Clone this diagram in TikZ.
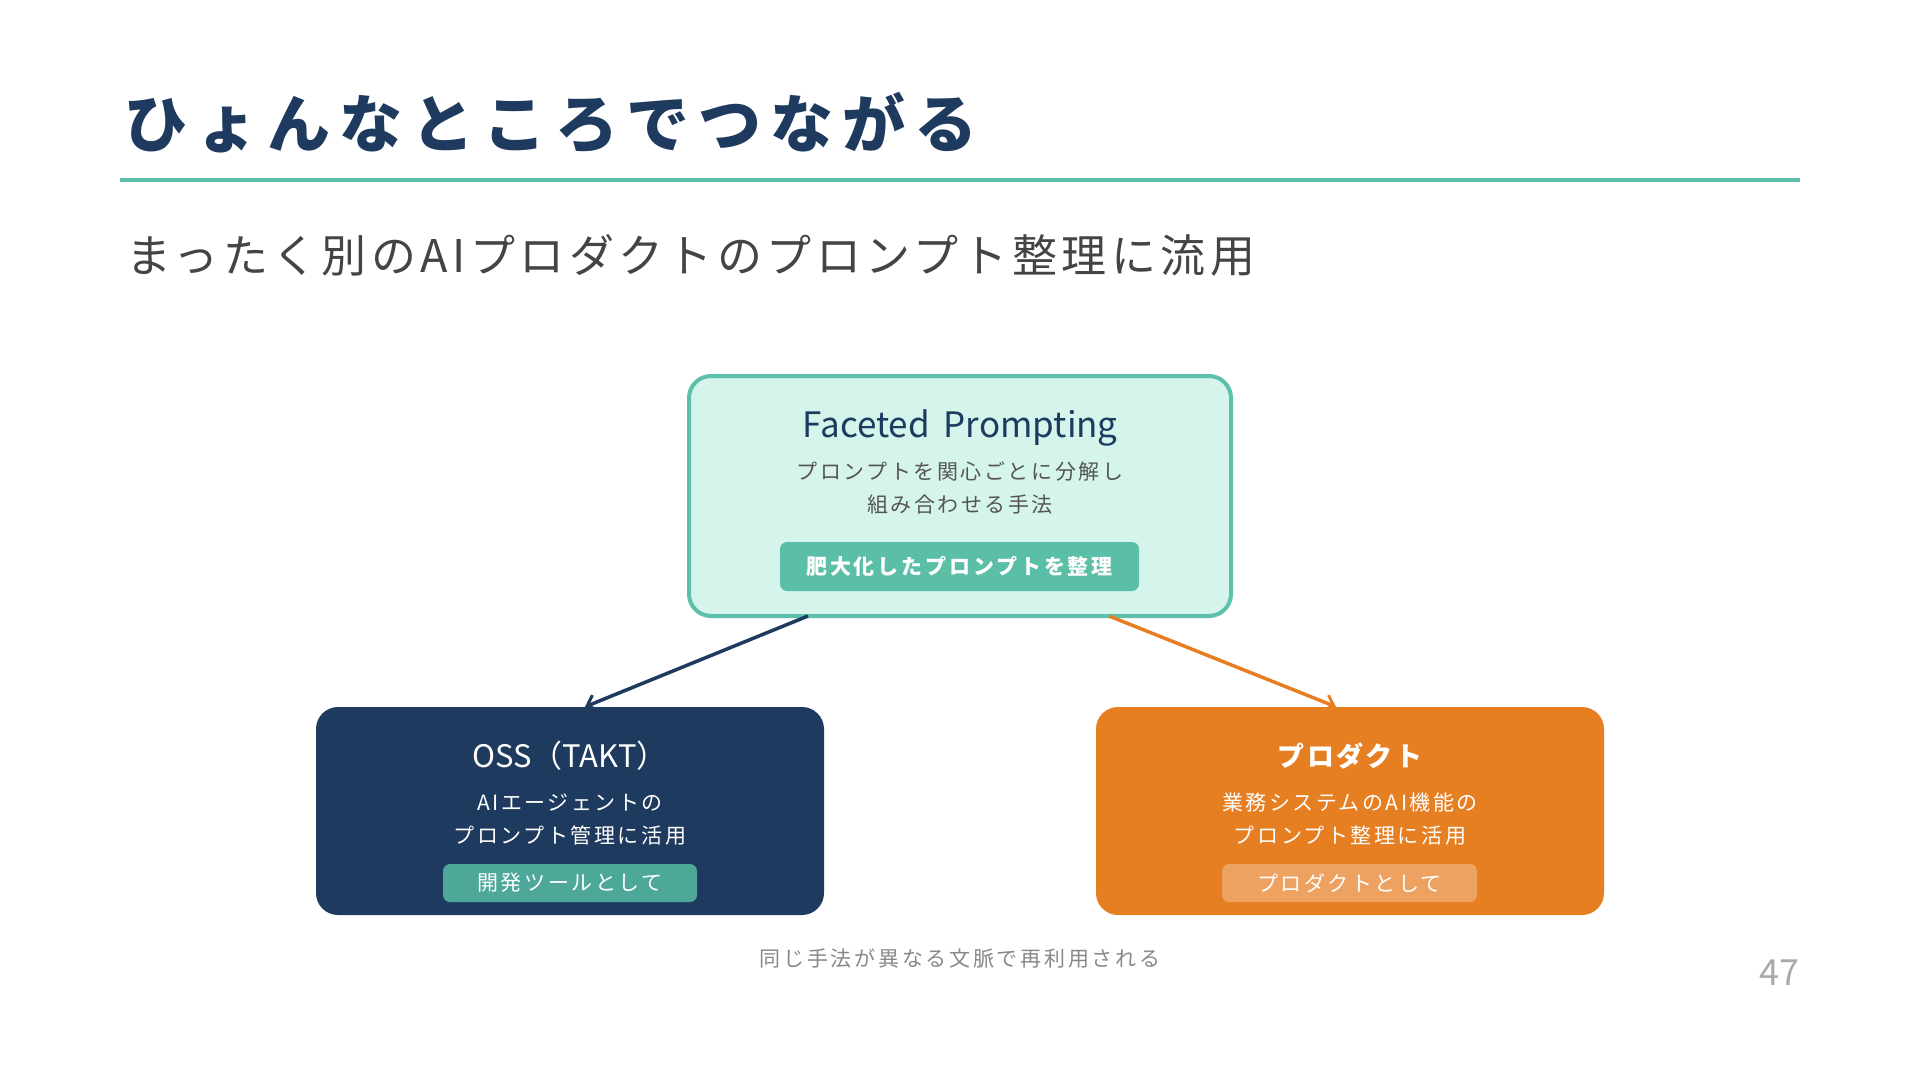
\documentclass[tikz,border=0pt]{standalone}
\usepackage{fontspec}
\setmainfont{Noto Sans CJK JP}
\usetikzlibrary{arrows.meta,calc}
\definecolor{navy}{HTML}{1F3A5F}
\definecolor{tealline}{HTML}{5CC0AB}
\definecolor{mint}{HTML}{D5F4EC}
\definecolor{tagteal}{HTML}{5BBFA7}
\definecolor{tagteal2}{HTML}{4DA89A}
\definecolor{orng}{HTML}{E67E22}
\definecolor{orngtag}{HTML}{EDA261}
\definecolor{txtgray}{HTML}{555555}
\definecolor{subgray}{HTML}{444444}
\definecolor{capgray}{HTML}{888888}
\definecolor{pggray}{HTML}{AAAAAA}
\tikzset{
  bigbox/.style={rounded corners=22pt, minimum width=#1, minimum height=208, inner sep=0},
  tagbox/.style={rounded corners=7pt, inner sep=0, text=white},
  smalltxt/.style={inner sep=0, font=\fontsize{21}{25}\selectfont\addfontfeature{LetterSpace=12}},
  link/.style={line width=3.5pt, -{Straight Barb[length=9pt,width=16pt,line width=3pt]}}
}
\begin{document}
\begin{tikzpicture}[x=1pt,y=-1pt]
\fill[white] (0,0) rectangle (1920,1080);
\useasboundingbox (0,0) rectangle (1920,1080);

% title
\node[anchor=west, inner sep=0, text=navy, font=\fontsize{63}{63}\selectfont\bfseries\addfontfeature{LetterSpace=14}] (title) at (124,123) {ひょんなところでつながる};
\coordinate (rl) at (120,180);
\coordinate (rr) at (1800,180);
\draw[tealline, line width=4pt] (rl) -- (rr);
\node[anchor=west, inner sep=0, text=subgray, font=\fontsize{45}{45}\selectfont\addfontfeature{LetterSpace=9.8}] (sub) at (126,255) {まったく別のAIプロダクトのプロンプト整理に流用};

% top box
\node[bigbox=542, minimum height=240, fill=mint, draw=tealline, line width=4pt] (top) at (960,496) {};
\node[inner sep=0, text=navy, font=\fontsize{35}{36}\selectfont] (toptitle) at (960,428) {Faceted\hspace{14pt}Prompting};
\node[smalltxt, text=txtgray] (topl1) at (960,472) {プロンプトを関心ごとに分解し};
\node[smalltxt, text=txtgray] (topl2) at (960,505) {組み合わせる手法};
\node[tagbox, fill=tagteal, minimum width=359, minimum height=49, font=\fontsize{21}{25}\selectfont\bfseries\addfontfeature{LetterSpace=13.5}] (toptag) at (959.5,566.5) {肥大化したプロンプトを整理};

% left box
\node[bigbox=508, fill=navy] (left) at (570,811) {};
\node[inner sep=0, text=white, font=\fontsize{31}{31}\selectfont] (lefttitle) at (570,756) {OSS（TAKT）};
\node[smalltxt, text=white] (leftl1) at (570,803) {AIエージェントの};
\node[smalltxt, text=white] (leftl2) at (570,836) {プロンプト管理に活用};
\node[tagbox, fill=tagteal2, minimum width=254, minimum height=38, font=\fontsize{21}{25}\selectfont\addfontfeature{LetterSpace=12}] (lefttag) at (570,883) {開発ツールとして};

% right box
\node[bigbox=508, fill=orng] (right) at (1350,811) {};
\node[inner sep=0, text=white, font=\fontsize{27}{27}\selectfont\bfseries\addfontfeature{LetterSpace=9}] (righttitle) at (1350,756) {プロダクト};
\node[smalltxt, text=white] (rightl1) at (1350,803) {業務システムのAI機能の};
\node[smalltxt, text=white] (rightl2) at (1350,836) {プロンプト整理に活用};
\node[tagbox, fill=orngtag, minimum width=255, minimum height=38, font=\fontsize{21}{25}\selectfont\addfontfeature{LetterSpace=12}] (righttag) at (1349.5,883) {プロダクトとして};

% arrows
\draw[link, navy] ($(top.south)+(-152,-2)$) -- ($(left.north)+(15,0)$);
\draw[link, orng] ($(top.south)+(149,-2)$) -- ($(right.north)+(-14,0)$);

% caption
\node[inner sep=0, text=capgray, font=\fontsize{21}{25}\selectfont\addfontfeature{LetterSpace=13}] (cap) at (960,958) {同じ手法が異なる文脈で再利用される};
\node[anchor=east, inner sep=0, text=pggray, font=\fontsize{36}{36}\selectfont] (pg) at (1800,973) {47};
\end{tikzpicture}
\end{document}
